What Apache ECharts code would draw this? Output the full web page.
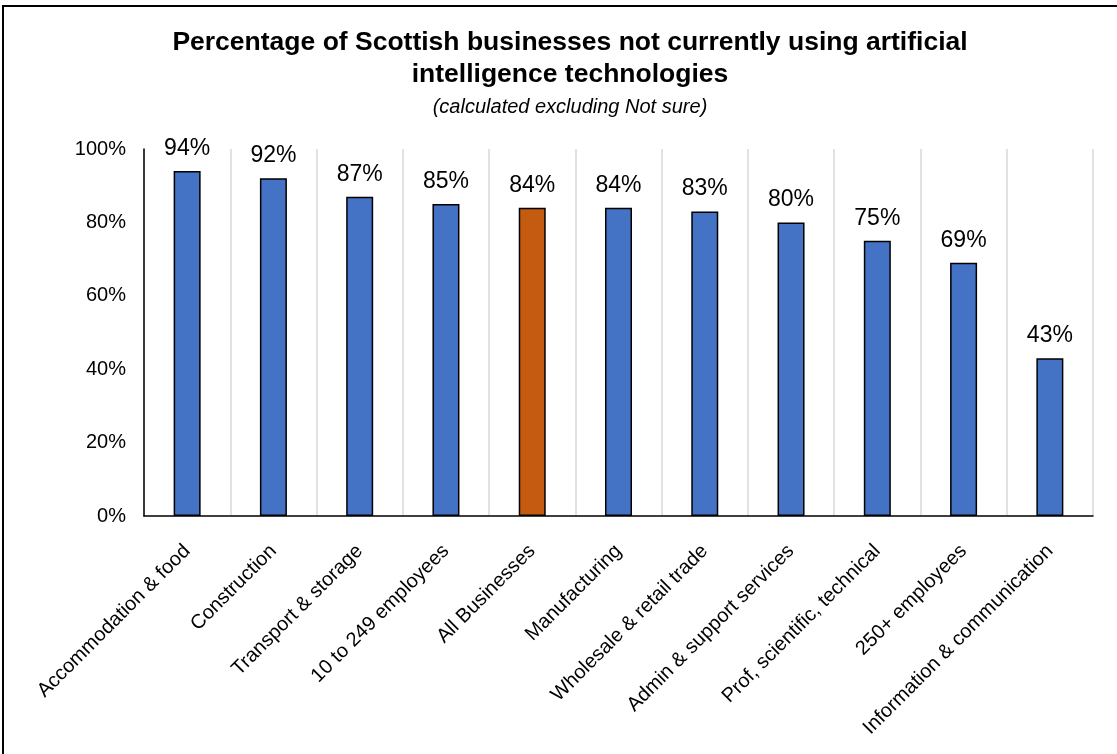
<!DOCTYPE html>
<html>
<head>
<meta charset="utf-8">
<script src="https://cdn.jsdelivr.net/npm/echarts@6/dist/echarts.min.js"></script>
<style>
  html, body { margin: 0; padding: 0; background: #fff; }
  #chart { width: 1117px; height: 754px; }
</style>
</head>
<body>
<div id="chart"></div>
<script>
// Share of Scottish businesses not using AI, by sector / size band
const categories = [
  'Accommodation & food', 'Construction', 'Transport & storage', '10 to 249 employees',
  'All Businesses', 'Manufacturing', 'Wholesale & retail trade', 'Admin & support services',
  'Prof, scientific, technical', '250+ employees', 'Information & communication'
];
const values = [94, 92, 87, 85, 84, 84, 83, 80, 75, 69, 43];
const highlightCategory = 'All Businesses';
const yTicks = [0, 20, 40, 60, 80, 100];

const FONT = '"Liberation Sans", Arial, sans-serif';
const BLUE = '#4472C4';
const ORANGE = '#C55A11';

const chart = echarts.init(document.getElementById('chart'), null, { renderer: 'canvas' });

chart.setOption({
  backgroundColor: '#fff',
  animation: false,
  title: {
    text: 'Percentage of Scottish businesses not currently using artificial\nintelligence technologies',
    subtext: '(calculated excluding Not sure)',
    left: 565,
    textAlign: 'center',
    top: 22,
    itemGap: 3,
    textStyle: { fontFamily: FONT, fontSize: 26.5, fontWeight: 'bold', color: '#000', lineHeight: 32 },
    subtextStyle: { fontFamily: FONT, fontSize: 20, fontStyle: 'italic', color: '#000', lineHeight: 26 }
  },
  graphic: [{
    type: 'rect',
    shape: { x: 3, y: 6, width: 1200, height: 800 },
    style: { fill: 'none', stroke: '#000', lineWidth: 2 },
    silent: true,
    z: 100
  }],
  grid: { left: 144, right: 24, top: 149, bottom: 238, containLabel: false },
  xAxis: {
    type: 'category',
    data: categories,
    axisLine: { show: true, lineStyle: { color: '#000', width: 1.5 } },
    axisTick: { show: false },
    splitLine: { show: true, interval: 0, lineStyle: { color: '#D9D9D9', width: 1.5 } },
    axisLabel: {
      interval: 0,
      rotate: 45,
      margin: 32,
      fontFamily: FONT,
      fontSize: 20,
      color: '#000'
    }
  },
  yAxis: {
    type: 'value',
    min: 0,
    max: 100,
    interval: 20,
    axisLine: { show: true, lineStyle: { color: '#000', width: 1.5 } },
    axisTick: { show: false },
    splitLine: { show: false },
    axisLabel: {
      margin: 18,
      fontFamily: FONT,
      fontSize: 20,
      color: '#000',
      formatter: v => yTicks.includes(v) ? v + '%' : ''
    }
  },
  series: [{
    type: 'bar',
    barWidth: 27,
    data: values.map((v, i) => ({
      value: v,
      itemStyle: { color: categories[i] === highlightCategory ? ORANGE : BLUE }
    })),
    itemStyle: { borderColor: '#000', borderWidth: 1.5 },
    label: {
      show: true,
      position: 'top',
      distance: 11,
      fontFamily: FONT,
      fontSize: 23,
      color: '#000',
      formatter: p => p.value + '%'
    }
  }]
});
</script>
</body>
</html>
